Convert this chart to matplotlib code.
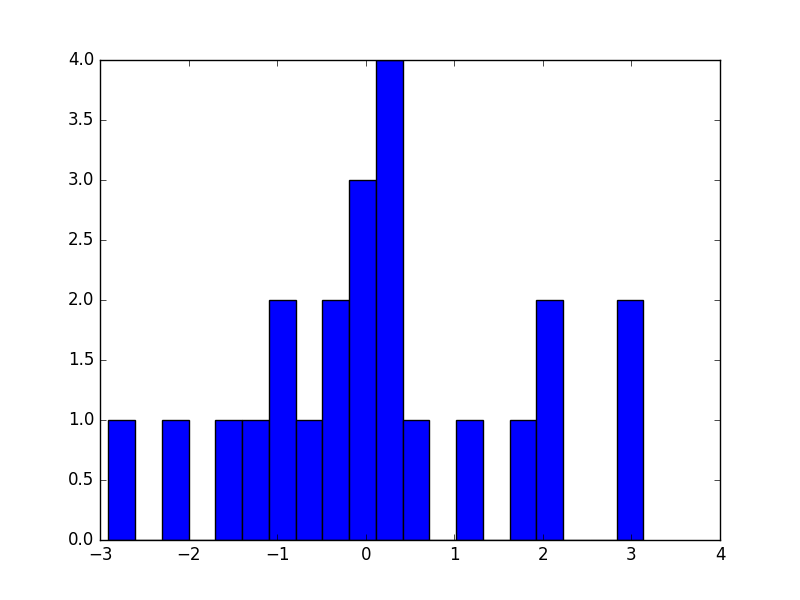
import numpy as np
import matplotlib
matplotlib.use("Agg")
import matplotlib.pyplot as plt

# Histogram: 20 equal bins
bin_lo = -2.906
bin_hi = 3.134
counts = [1, 0, 1, 0, 1, 1, 2, 1, 2, 3, 4, 1, 0, 1, 0, 1, 2, 0, 0, 2]

edges = np.linspace(bin_lo, bin_hi, len(counts) + 1)
centers = (edges[:-1] + edges[1:]) / 2

plt.style.use("classic")
fig, ax = plt.subplots(figsize=(8, 6), dpi=100)
ax.hist(centers, bins=edges, weights=counts)

fig.savefig("out.png", dpi=100)
